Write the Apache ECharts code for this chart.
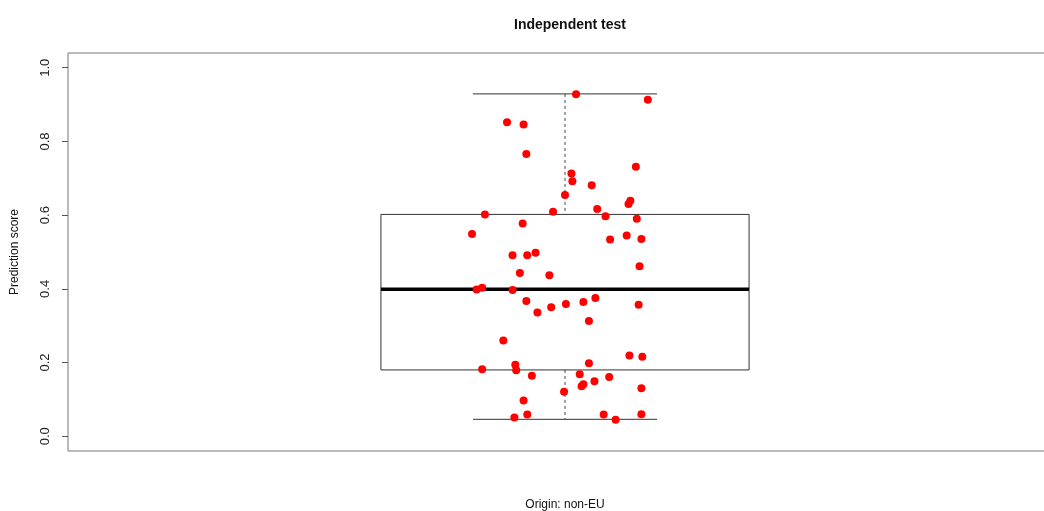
<!DOCTYPE html>
<html>
<head>
<meta charset="utf-8">
<script src="https://cdn.jsdelivr.net/npm/echarts@6/dist/echarts.min.js"></script>
<style>html,body{margin:0;padding:0;background:#fff}#c{width:1044px;height:511px}</style>
</head>
<body>
<div id="c"></div>
<script>
// Box statistics: [x position, lower whisker, Q1, median, Q3, upper whisker]
const boxStats = [1, 0.046, 0.180, 0.399, 0.602, 0.929];
// Jittered x positions of points (group at x = 1)
const pointX = [1.012,1.090,0.937,0.955,0.958,1.077,1.007,1.008,1.029,1.000,
  1.071,1.069,1.035,0.987,0.913,1.044,1.078,0.954,0.899,1.049,
  1.067,1.083,0.943,0.959,0.968,1.081,0.951,0.983,0.904,0.910,
  0.943,0.958,0.970,0.985,1.001,1.020,1.033,1.080,1.026,0.933,
  1.070,1.084,0.946,1.026,0.910,0.947,0.964,1.016,1.048,1.032,
  1.020,1.018,1.083,0.999,0.955,0.959,0.945,1.042,1.055,1.083];
// Prediction scores
const pointY = [0.928,0.913,0.852,0.846,0.766,0.731,0.713,0.692,0.681,0.655,
  0.639,0.630,0.617,0.609,0.602,0.597,0.590,0.577,0.549,0.534,
  0.545,0.535,0.491,0.491,0.498,0.461,0.443,0.437,0.398,0.403,
  0.397,0.367,0.336,0.350,0.359,0.364,0.375,0.357,0.313,0.260,
  0.219,0.216,0.194,0.198,0.182,0.179,0.164,0.168,0.161,0.149,
  0.141,0.136,0.130,0.121,0.097,0.059,0.051,0.059,0.045,0.060];
const yTicks = [0, 0.2, 0.4, 0.6, 0.8, 1.0];
const titleText = 'Independent test';
const xName = 'Origin: non-EU';
const yName = 'Prediction score';

const chart = echarts.init(document.getElementById('c'), null, {renderer: 'canvas'});
const FONT = '"Liberation Sans", Arial, sans-serif';
const BOX_HALF = 0.2, CAP_HALF = 0.1;

chart.setOption({
  animation: false,
  backgroundColor: '#fff',
  title: {
    text: titleText, left: 565, top: 13, textAlign: 'center',
    textStyle: {fontFamily: FONT, fontSize: 14, fontWeight: 'bold', color: '#111'}
  },
  grid: {left: 68, top: 53, width: 994, height: 398, outerBoundsMode: 'none', containLabel: false,
    show: true, borderColor: '#777', borderWidth: 1, backgroundColor: 'transparent'},
  xAxis: {
    type: 'value', min: 0.46, max: 1.54,
    axisLine: {show: false}, axisTick: {show: false}, axisLabel: {show: false}, splitLine: {show: false},
    name: xName, nameLocation: 'middle', nameGap: 48,
    nameTextStyle: {fontFamily: FONT, fontSize: 12, color: '#111'}
  },
  yAxis: {
    type: 'value', min: -0.04, max: 1.04,
    axisLine: {show: false},
    axisTick: {show: true, length: 6, customValues: yTicks, lineStyle: {color: '#555'}},
    axisLabel: {show: true, customValues: yTicks, rotate: 90, margin: 16,
      formatter: v => v.toFixed(1),
      fontFamily: FONT, fontSize: 13, color: '#222'},
    splitLine: {show: false},
    name: yName, nameLocation: 'middle', nameGap: 47,
    nameTextStyle: {fontFamily: FONT, fontSize: 12, color: '#111'}
  },
  series: [
    {
      type: 'custom',
      data: [boxStats],
      renderItem: function (params, api) {
        const x = api.value(0);
        const lo = api.value(1), q1 = api.value(2), md = api.value(3), q3 = api.value(4), hi = api.value(5);
        const tl = api.coord([x - BOX_HALF, q3]);
        const br = api.coord([x + BOX_HALF, q1]);
        const mL = api.coord([x - BOX_HALF, md]);
        const mR = api.coord([x + BOX_HALF, md]);
        const cT = api.coord([x, hi]);
        const cQ3 = api.coord([x, q3]);
        const cQ1 = api.coord([x, q1]);
        const cB = api.coord([x, lo]);
        const capTL = api.coord([x - CAP_HALF, hi]);
        const capTR = api.coord([x + CAP_HALF, hi]);
        const capBL = api.coord([x - CAP_HALF, lo]);
        const capBR = api.coord([x + CAP_HALF, lo]);
        const dash = {stroke: '#666', lineWidth: 1.2, lineDash: [3, 3]};
        const solid = {stroke: '#333', lineWidth: 1};
        return {
          type: 'group',
          children: [
            {type: 'line', shape: {x1: cT[0], y1: cT[1], x2: cQ3[0], y2: cQ3[1]}, style: dash},
            {type: 'line', shape: {x1: cQ1[0], y1: cQ1[1], x2: cB[0], y2: cB[1]}, style: dash},
            {type: 'line', shape: {x1: capTL[0], y1: capTL[1], x2: capTR[0], y2: capTR[1]}, style: solid},
            {type: 'line', shape: {x1: capBL[0], y1: capBL[1], x2: capBR[0], y2: capBR[1]}, style: solid},
            {type: 'rect', shape: {x: tl[0], y: tl[1], width: br[0] - tl[0], height: br[1] - tl[1]},
              style: {fill: 'transparent', stroke: '#333', lineWidth: 1}},
            {type: 'line', shape: {x1: mL[0], y1: mL[1], x2: mR[0], y2: mR[1]}, style: {stroke: '#000', lineWidth: 3.5}}
          ]
        };
      },
      z: 2
    },
    {
      type: 'scatter',
      data: pointX.map((x, i) => [x, pointY[i]]),
      symbol: 'circle', symbolSize: 8,
      itemStyle: {color: '#f00', opacity: 1},
      z: 3
    }
  ]
});
</script>
</body>
</html>
